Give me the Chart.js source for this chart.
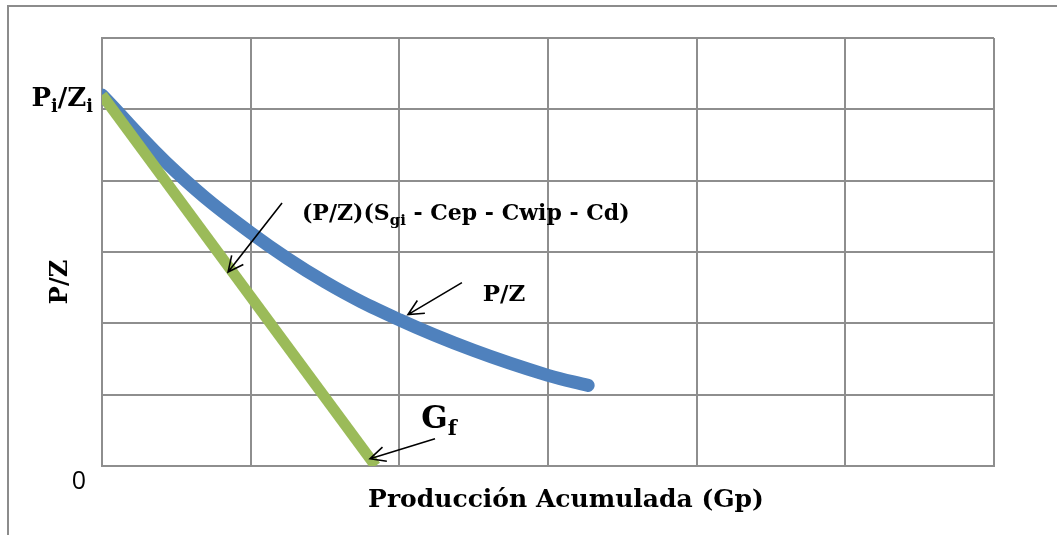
<!DOCTYPE html>
<html>
<head>
<meta charset="utf-8">
<script src="https://cdn.jsdelivr.net/npm/chart.js@4/dist/chart.umd.min.js"></script>
<style>
  html, body { margin: 0; padding: 0; background: #fff; }
  #wrap { width: 1057px; height: 535px; position: relative; }
</style>
</head>
<body>
<div id="wrap"><canvas id="c" width="1057" height="535"></canvas></div>
<script>
// ---- data ----
const pzX = [0, 0.5, 1.0, 1.5, 2.0, 2.5, 3.0, 3.27];
const pzY = [5.20, 4.12, 3.27, 2.58, 2.05, 1.62, 1.27, 1.13];
const corrX = [0, 1.84];
const corrY = [5.20, 0];
const xTicks = [0, 1, 2, 3, 4, 5, 6];
const yTicks = [0, 1, 2, 3, 4, 5, 6];
const yAxisTitle = 'P/Z';
const xAxisTitle = 'Producción Acumulada (Gp)';
const zeroLabel = '0';
const startLabel = [{t: 'P'}, {t: 'i', sub: true}, {t: '/Z'}, {t: 'i', sub: true}];
const corrLabel = [{t: '(P/Z)(S'}, {t: 'gi', sub: true}, {t: ' - Cep - Cwip - Cd)'}];
const pzLabel = [{t: 'P/Z'}];
const gfLabel = [{t: 'G'}, {t: 'f', sub: true}];

const toPts = (xs, ys) => xs.map((x, i) => ({x: x, y: ys[i]}));

const SERIF = '"DejaVu Serif", serif';
const SUB = 0.68;

function richWidth(ctx, parts, size) {
  let w = 0;
  for (const p of parts) {
    ctx.font = 'bold ' + (p.sub ? size * SUB : size) + 'px ' + SERIF;
    w += ctx.measureText(p.t).width;
  }
  return w;
}
function drawRich(ctx, parts, x, y, size, align) {
  const w = richWidth(ctx, parts, size);
  let cx = align === 'right' ? x - w : (align === 'center' ? x - w / 2 : x);
  ctx.textAlign = 'left';
  ctx.textBaseline = 'alphabetic';
  ctx.fillStyle = '#000';
  for (const p of parts) {
    const s = p.sub ? size * SUB : size;
    ctx.font = 'bold ' + s + 'px ' + SERIF;
    ctx.fillText(p.t, cx, p.sub ? y + size * 0.22 : y);
    cx += ctx.measureText(p.t).width;
  }
}
function arrow(ctx, x1, y1, x2, y2) {
  ctx.save();
  ctx.strokeStyle = '#000';
  ctx.lineWidth = 1.6;
  ctx.beginPath();
  ctx.moveTo(x1, y1);
  ctx.lineTo(x2, y2);
  const a = Math.atan2(y2 - y1, x2 - x1);
  const L = 17, ang = 0.45;
  ctx.moveTo(x2 - L * Math.cos(a - ang), y2 - L * Math.sin(a - ang));
  ctx.lineTo(x2, y2);
  ctx.lineTo(x2 - L * Math.cos(a + ang), y2 - L * Math.sin(a + ang));
  ctx.stroke();
  ctx.restore();
}

const decor = {
  id: 'decor',
  beforeDraw(chart) {
    const ctx = chart.ctx;
    ctx.save();
    ctx.fillStyle = '#fff';
    ctx.fillRect(0, 0, chart.width, chart.height);
    ctx.strokeStyle = '#8c8c8c';
    ctx.lineWidth = 2;
    ctx.beginPath();
    ctx.moveTo(8, chart.height);
    ctx.lineTo(8, 6);
    ctx.lineTo(chart.width, 6);
    ctx.stroke();
    ctx.restore();
  },
  afterDraw(chart) {
    const ctx = chart.ctx;
    const xs = chart.scales.x, ys = chart.scales.y;
    const X = v => xs.getPixelForValue(v), Y = v => ys.getPixelForValue(v);
    const area = chart.chartArea;
    ctx.save();
    // tick-like labels
    ctx.fillStyle = '#000';
    ctx.font = '25px "Open Sans", "Liberation Sans", sans-serif';
    ctx.textAlign = 'center';
    ctx.textBaseline = 'middle';
    ctx.fillText(zeroLabel, area.left - 23, Y(0) + 16);
    drawRich(ctx, startLabel, area.left - 9, Y(corrY[0]) + 11, 26, 'right');
    // annotations
    drawRich(ctx, corrLabel, X(1.345), Y(3.451), 22, 'left');
    drawRich(ctx, pzLabel, X(2.561), Y(2.32), 23, 'left');
    drawRich(ctx, gfLabel, X(2.148), Y(0.537), 31, 'left');
    arrow(ctx, X(1.211), Y(3.686), X(0.848), Y(2.72));
    arrow(ctx, X(2.421), Y(2.571), X(2.058), Y(2.122));
    arrow(ctx, X(2.240), Y(0.383), X(1.803), Y(0.102));
    // axis titles
    drawRich(ctx, [{t: xAxisTitle}], 566, 507, 25, 'center');
    ctx.save();
    ctx.translate(67, 282);
    ctx.rotate(-Math.PI / 2);
    drawRich(ctx, [{t: yAxisTitle}], 0, 0, 24, 'center');
    ctx.restore();
    ctx.restore();
  }
};

const gridOpts = { color: '#8e8e8e', lineWidth: 2, drawTicks: false };

new Chart(document.getElementById('c'), {
  type: 'scatter',
  data: {
    datasets: [
      {
        label: 'corr',
        data: toPts(corrX, corrY),
        showLine: true,
        borderColor: '#9BBB59',
        borderWidth: 11,
        borderCapStyle: 'butt',
        pointRadius: 0,
        clip: 0,
        order: 0
      },
      {
        label: 'P/Z',
        data: toPts(pzX, pzY),
        showLine: true,
        borderColor: '#4F81BD',
        borderWidth: 13,
        borderCapStyle: 'round',
        tension: 0.4,
        pointRadius: 0,
        clip: 0,
        order: 1
      }
    ]
  },
  options: {
    responsive: false,
    animation: false,
    layout: { padding: { left: 102, right: 63, top: 38, bottom: 69 } },
    plugins: { legend: { display: false }, tooltip: { enabled: false } },
    scales: {
      x: {
        type: 'linear', min: 0, max: 6,
        afterBuildTicks: s => { s.ticks = xTicks.map(v => ({value: v})); },
        ticks: { display: false },
        grid: gridOpts,
        border: { display: true, color: '#8e8e8e', width: 2 }
      },
      y: {
        type: 'linear', min: 0, max: 6,
        afterBuildTicks: s => { s.ticks = yTicks.map(v => ({value: v})); },
        ticks: { display: false },
        grid: gridOpts,
        border: { display: true, color: '#8e8e8e', width: 2 }
      }
    }
  },
  plugins: [decor]
});
</script>
</body>
</html>
